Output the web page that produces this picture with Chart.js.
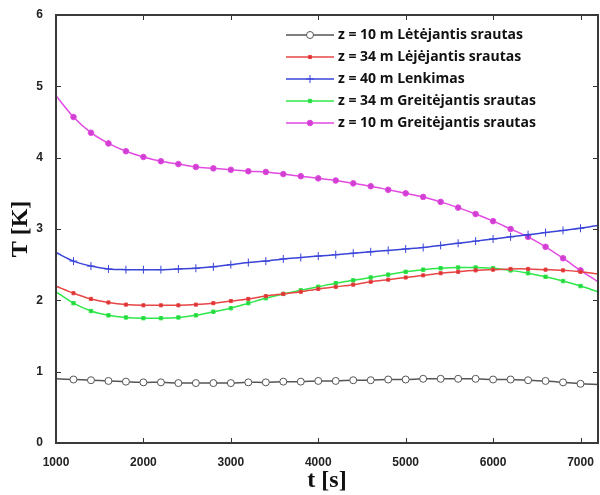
<!DOCTYPE html>
<html>
<head>
<meta charset="utf-8">
<script src="https://cdn.jsdelivr.net/npm/chart.js@4/dist/chart.umd.min.js"></script>
<style>
html,body{margin:0;padding:0;background:#fff;}
#wrap{position:relative;width:600px;height:495px;}
</style>
</head>
<body>
<div id="wrap"><canvas id="c" width="600" height="495"></canvas></div>
<script>
const tValues = [1000,1200,1400,1600,1800,2000,2200,2400,2600,2800,3000,3200,3400,3600,3800,4000,4200,4400,4600,4800,5000,5200,5400,5600,5800,6000,6200,6400,6600,6800,7000,7200];
const xTickValues = [1000,2000,3000,4000,5000,6000,7000];
const yTickValues = [0,1,2,3,4,5,6];

const seriesNames = [
  "z = 10 m Lėtėjantis srautas",
  "z = 34 m Lėjėjantis srautas",
  "z = 40 m Lenkimas",
  "z = 34 m Greitėjantis srautas",
  "z = 10 m Greitėjantis srautas"
];
const slow10 = [0.90,0.89,0.88,0.87,0.86,0.85,0.85,0.84,0.84,0.84,0.84,0.85,0.85,0.86,0.86,0.87,0.87,0.88,0.88,0.89,0.89,0.90,0.90,0.90,0.90,0.89,0.89,0.88,0.87,0.85,0.83,0.82];
const slow34 = [2.20,2.10,2.02,1.97,1.94,1.93,1.93,1.93,1.94,1.96,1.99,2.02,2.06,2.09,2.12,2.16,2.19,2.22,2.26,2.29,2.32,2.35,2.38,2.40,2.42,2.43,2.44,2.44,2.43,2.42,2.40,2.37];
const bend40 = [2.67,2.55,2.48,2.44,2.43,2.43,2.43,2.44,2.45,2.47,2.50,2.53,2.55,2.58,2.60,2.62,2.64,2.66,2.68,2.70,2.72,2.74,2.77,2.80,2.83,2.86,2.89,2.92,2.95,2.98,3.01,3.05];
const fast34 = [2.12,1.96,1.85,1.79,1.76,1.75,1.75,1.76,1.79,1.84,1.89,1.96,2.03,2.09,2.14,2.19,2.24,2.28,2.32,2.36,2.40,2.43,2.45,2.46,2.46,2.45,2.42,2.38,2.33,2.27,2.20,2.12];
const fast10 = [4.87,4.57,4.35,4.20,4.09,4.01,3.95,3.91,3.87,3.85,3.83,3.81,3.80,3.77,3.74,3.71,3.68,3.64,3.60,3.55,3.50,3.45,3.38,3.30,3.21,3.11,3.00,2.89,2.75,2.59,2.42,2.26];

const seriesValues = [slow10, slow34, bend40, fast34, fast10];
const lineColors = ["#555555","#e84545","#3a45d8","#2ee84a","#e24ae2"];
const markerFills = ["#ffffff","#d83030","#3a45d8","#28d040","#d040d0"];
const markerStyles = ["circle","rect","cross","rect","circle"];
const markerSizes = [3.5,2.2,4,2.4,2.8];

function mkData(vals){ return tValues.map((t,i)=>({x:t,y:vals[i]})); }

const datasets = seriesNames.map((name,k)=>({
  label: name,
  data: mkData(seriesValues[k]),
  borderColor: lineColors[k],
  backgroundColor: markerFills[k],
  pointBorderColor: lineColors[k],
  pointBackgroundColor: markerFills[k],
  pointStyle: markerStyles[k],
  pointRadius: (c)=> (c.dataIndex===0 || c.dataIndex===tValues.length-1) ? 0 : markerSizes[k],
  pointBorderWidth: 1,
  borderWidth: 1.5,
  tension: 0.3,
  fill: false
}));

const frameTicks = {
  id:'frameTicks',
  afterDraw(chart){
    const {ctx, chartArea:a, scales} = chart;
    ctx.save();
    ctx.strokeStyle = '#333';
    ctx.lineWidth = 1;
    xTickValues.forEach(v=>{
      const px = Math.round(scales.x.getPixelForValue(v))+0.5;
      ctx.beginPath(); ctx.moveTo(px,a.bottom); ctx.lineTo(px,a.bottom-5); ctx.stroke();
      ctx.beginPath(); ctx.moveTo(px,a.top); ctx.lineTo(px,a.top+5); ctx.stroke();
    });
    yTickValues.forEach(v=>{
      const py = Math.round(scales.y.getPixelForValue(v))+0.5;
      ctx.beginPath(); ctx.moveTo(a.left,py); ctx.lineTo(a.left+5,py); ctx.stroke();
      ctx.beginPath(); ctx.moveTo(a.right,py); ctx.lineTo(a.right-5,py); ctx.stroke();
    });
    ctx.lineWidth = 2;
    ctx.strokeStyle = '#3a3a3a';
    ctx.strokeRect(a.left, a.top, a.right-a.left, a.bottom-a.top);
    ctx.restore();
  }
};

const lineLegend = {
  id:'lineLegend',
  afterDraw(chart){
    const ctx = chart.ctx;
    const x0 = 286, x1 = 334, tx = 338, y0 = 35, dy = 22;
    ctx.save();
    chart.data.datasets.forEach((ds,i)=>{
      const y = y0 + i*dy;
      ctx.strokeStyle = ds.borderColor;
      ctx.lineWidth = 1.5;
      ctx.beginPath(); ctx.moveTo(x0,y); ctx.lineTo(x1,y); ctx.stroke();
      ctx.fillStyle = ds.pointBackgroundColor;
      ctx.strokeStyle = ds.pointBorderColor;
      ctx.lineWidth = 1;
      Chart.helpers.drawPoint(ctx,{pointStyle:ds.pointStyle, radius:markerSizes[i], rotation:0, borderWidth:1},(x0+x1)/2,y);
      ctx.fillStyle = '#111';
      ctx.font = 'bold 14px "Open Sans", "Liberation Sans", sans-serif';
      ctx.textBaseline = 'middle';
      ctx.textAlign = 'left';
      ctx.fillText(ds.label, tx, y);
    });
    ctx.restore();
  }
};

new Chart(document.getElementById('c'), {
  type:'line',
  data:{ datasets },
  options:{
    responsive:false,
    animation:false,
    layout:{ padding:{ top:15, right:2, left:0, bottom:0 } },
    plugins:{ legend:{display:false}, tooltip:{enabled:false} },
    scales:{
      x:{
        type:'linear', min:1000, max:7200,
        afterBuildTicks: s=>{ s.ticks = xTickValues.map(v=>({value:v})); },
        afterFit: s=>{ s.height = 52; },
        grid:{ display:false }, border:{ display:false },
        ticks:{ padding:4, color:'#222', callback:(v)=>String(v), font:{ family:'"Liberation Sans", Arial, sans-serif', weight:'bold', size:12 }, maxRotation:0, autoSkip:false },
        title:{ display:true, text:'t [s]', color:'#111', padding:{top:0,bottom:0}, font:{ family:'"Liberation Serif","DejaVu Serif",serif', weight:'bold', size:24 } }
      },
      y:{
        type:'linear', min:0, max:6,
        afterBuildTicks: s=>{ s.ticks = yTickValues.map(v=>({value:v})); },
        afterFit: s=>{ s.width = 56; },
        grid:{ display:false }, border:{ display:false },
        ticks:{ padding:5, color:'#222', callback:(v)=>String(v), font:{ family:'"Liberation Sans", Arial, sans-serif', weight:'bold', size:12 } },
        title:{ display:true, text:'T [K]', color:'#111', padding:{top:6,bottom:0}, font:{ family:'"Liberation Serif","DejaVu Serif",serif', weight:'bold', size:24 } }
      }
    }
  },
  plugins:[frameTicks, lineLegend]
});
</script>
</body>
</html>
